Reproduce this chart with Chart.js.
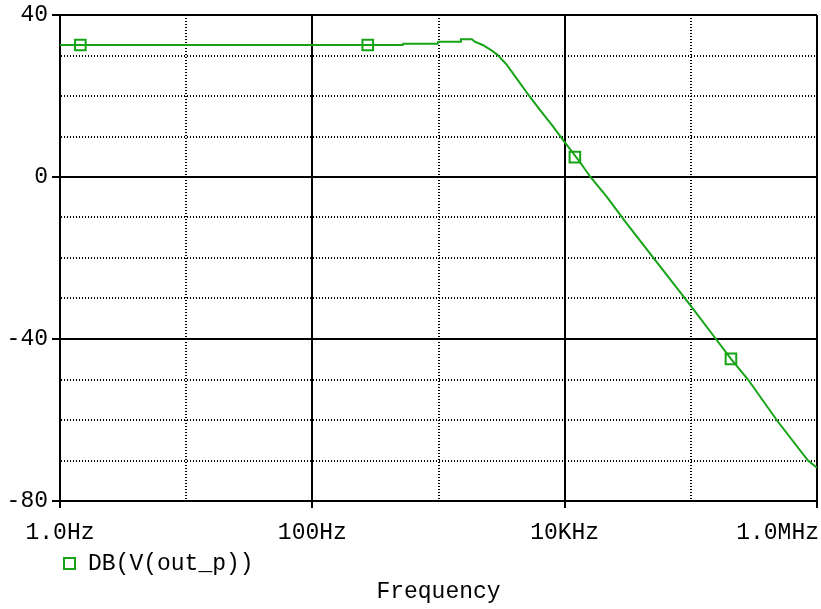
<!DOCTYPE html>
<html>
<head>
<meta charset="utf-8">
<script src="https://cdn.jsdelivr.net/npm/chart.js@4.4.0/dist/chart.umd.min.js"></script>
<style>
    body { margin: 0; background: #fff; }
</style>
</head>
<body>
<canvas id="bode" width="821" height="609"></canvas>
<script>
// trace DB(V(out_p))
var freqHz = [1, 520, 525, 985, 995, 1495, 1505, 1840, 1940, 2240, 2650, 2950, 3480, 4170, 5100,
              6320, 8020, 10000, 13200, 16000, 21600, 30000, 50000, 100000, 158000, 208000,
              284000, 479000, 849000, 1000000];
var gainDb = [32.6, 32.6, 32.9, 32.9, 33.4, 33.4, 34.0, 34.0, 33.4, 32.6, 31.2, 30.1, 27.7, 24.3, 20.5,
              16.7, 12.6, 8.6, 3.7, 0, -4.9, -10.9, -19.8, -31.8, -40, -44.9,
              -50, -60, -70, -71.8];

// square markers on the trace
var markerHz = [1.45, 275, 12050, 208000];
var markerDb = [32.6, 32.6, 4.9, -44.9];

// axes
var xTickValues = [1, 10, 100, 1000, 10000, 100000, 1000000];
var xLabelValues = [1, 100, 10000, 1000000];
var xLabels = ['1.0Hz', '100Hz', '10KHz', '1.0MHz'];
var yMin = -80, yMax = 40, yStep = 10, yLabelStep = 40;

var green = '#16a416';
var monoFont = "'Liberation Mono', 'DejaVu Sans Mono', monospace";
var dotted = [1, 2];

function isMajorX(v) {
    return xLabelValues.indexOf(v) >= 0;
}
function isMajorY(v) {
    return v % yLabelStep === 0;
}

// x tick labels and the legend are drawn here, so the last label can sit flush right
var extras = {
    id: 'extras',
    afterDraw: function (chart) {
        var ctx = chart.ctx;
        var xs = chart.scales.x;
        ctx.save();
        ctx.font = '23px ' + monoFont;
        ctx.fillStyle = '#000';
        ctx.textBaseline = 'middle';
        for (var i = 0; i < xLabelValues.length; i++) {
            var px = xs.getPixelForValue(xLabelValues[i]);
            var last = i == xLabelValues.length - 1;
            ctx.textAlign = last ? 'right' : 'center';
            ctx.fillText(xLabels[i], last ? px + 2 : px, xs.top + 32);
        }

        ctx.strokeStyle = green;
        ctx.lineWidth = 2;
        ctx.strokeRect(64, 558, 11, 11);
        ctx.textAlign = 'left';
        ctx.fillText(chart.data.datasets[0].label, 88, 564);
        ctx.restore();
    }
};

var trace = freqHz.map(function (f, i) {
    return {x: f, y: gainDb[i]};
});
var marks = markerHz.map(function (f, i) {
    return {x: f, y: markerDb[i]};
});

new Chart(document.getElementById('bode'), {
    type: 'line',
    data: {
        datasets: [
            {
                label: 'DB(V(out_p))',
                data: trace,
                borderColor: green,
                borderWidth: 2,
                pointRadius: 0,
                tension: 0,
                fill: false
            },
            {
                label: 'markers',
                data: marks,
                showLine: false,
                pointStyle: 'rect',
                pointRadius: 7.5,
                pointBorderWidth: 2,
                pointBorderColor: green,
                pointBackgroundColor: 'rgba(0,0,0,0)'
            }
        ]
    },
    options: {
        responsive: false,
        animation: false,
        layout: {autoPadding: false, padding: {top: 15, right: 4, bottom: 0, left: 0}},
        plugins: {
            legend: {display: false},
            tooltip: {enabled: false},
            title: {
                display: true,
                text: 'Frequency',
                position: 'bottom',
                fullSize: false,
                color: '#000',
                font: {family: monoFont, size: 23, weight: 'normal'},
                padding: {top: 31.4, bottom: 3}
            }
        },
        scales: {
            x: {
                type: 'logarithmic',
                min: 1,
                max: 1000000,
                afterBuildTicks: function (scale) {
                    scale.ticks = xTickValues.map(function (v) {
                        return {value: v};
                    });
                },
                afterFit: function (scale) {
                    scale.height = 46;
                    scale.paddingLeft = 0;
                    scale.paddingRight = 0;
                },
                ticks: {display: false},
                grid: {
                    color: '#000',
                    lineWidth: 2,
                    tickColor: function (c) {
                        return c.tick && isMajorX(c.tick.value) ? '#000' : 'rgba(0,0,0,0)';
                    },
                    tickLength: 7,
                    tickWidth: 2
                },
                border: {
                    display: true,
                    color: '#000',
                    width: 2,
                    dash: function (c) {
                        return c.tick && !isMajorX(c.tick.value) ? dotted : [];
                    }
                }
            },
            y: {
                min: yMin,
                max: yMax,
                afterFit: function (scale) {
                    scale.width = 60;
                    scale.paddingTop = 0;
                    scale.paddingBottom = 0;
                },
                ticks: {
                    stepSize: yStep,
                    color: '#000',
                    padding: 4,
                    font: {family: monoFont, size: 23},
                    callback: function (v) {
                        return isMajorY(v) ? String(v) : '';
                    }
                },
                grid: {
                    color: '#000',
                    lineWidth: 2,
                    tickColor: function (c) {
                        return c.tick && isMajorY(c.tick.value) ? '#000' : 'rgba(0,0,0,0)';
                    },
                    tickLength: 8,
                    tickWidth: 2
                },
                border: {
                    display: true,
                    color: '#000',
                    width: 2,
                    dash: function (c) {
                        return c.tick && !isMajorY(c.tick.value) ? dotted : [];
                    }
                }
            }
        }
    },
    plugins: [extras]
});
</script>
</body>
</html>
